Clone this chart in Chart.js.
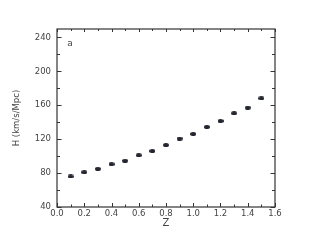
<!DOCTYPE html>
<html>
<head>
<meta charset="utf-8">
<script src="https://cdn.jsdelivr.net/npm/chart.js@4.4.1/dist/chart.umd.min.js"></script>
<style>
  html, body { margin: 0; padding: 0; background: #fff; }
  #wrap { width: 319px; height: 249px; }
</style>
</head>
<body>
<div id="wrap"><canvas id="c" width="319" height="249"></canvas></div>
<script>
// Data
const zValues = [0.1, 0.2, 0.3, 0.4, 0.5, 0.6, 0.7, 0.8, 0.9, 1.0, 1.1, 1.2, 1.3, 1.4, 1.5];
const hValues = [76, 81, 85, 90.5, 94.5, 101, 106, 113, 120.8, 126.2, 134.5, 141.5, 150.6, 157.3, 168.2];
const hErrors = [0.6, 0.6, 0.7, 0.7, 0.8, 0.8, 0.9, 0.9, 1.0, 1.0, 1.1, 1.3, 1.6, 1.6, 1.9];
const xTickLabels = ['0.0', '0.2', '0.4', '0.6', '0.8', '1.0', '1.2', '1.4', '1.6'];
const yTickLabels = ['40', '80', '120', '160', '200', '240'];
const panelLabel = 'a';

const textColor = '#444';
const axisColor = '#333';
const pointColor = '#23252f';

// ellipse marker
const marker = document.createElement('canvas');
marker.width = 6; marker.height = 4;
(function () {
  const m = marker.getContext('2d');
  m.fillStyle = pointColor;
  m.beginPath();
  m.ellipse(3, 2, 3, 2, 0, 0, Math.PI * 2);
  m.fill();
})();

const frameTicks = {
  id: 'frameTicks',
  afterDatasetsDraw(chart) {
    const ctx = chart.ctx;
    const a = chart.chartArea;
    const xs = chart.scales.x, ys = chart.scales.y;
    ctx.save();
    // error bars
    ctx.strokeStyle = pointColor;
    ctx.lineWidth = 1;
    zValues.forEach((z, i) => {
      const px = Math.round(xs.getPixelForValue(z)) + 0.5;
      const y1 = ys.getPixelForValue(hValues[i] - hErrors[i]);
      const y2 = ys.getPixelForValue(hValues[i] + hErrors[i]);
      ctx.beginPath(); ctx.moveTo(px, y1); ctx.lineTo(px, y2); ctx.stroke();
    });
    // frame
    ctx.strokeStyle = axisColor;
    ctx.lineWidth = 1.2;
    ctx.strokeRect(a.left, a.top, a.right - a.left, a.bottom - a.top);
    ctx.lineWidth = 1;
    // x ticks (every 0.1), inward
    for (let i = 0; i <= 16; i++) {
      const v = i / 10;
      const px = Math.round(xs.getPixelForValue(v)) + 0.5;
      const major = i % 2 === 0;
      const lb = major ? 4 : 2.5;
      ctx.beginPath(); ctx.moveTo(px, a.bottom); ctx.lineTo(px, a.bottom - lb); ctx.stroke();
      ctx.beginPath(); ctx.moveTo(px, a.top); ctx.lineTo(px, a.top + (major ? 3 : 2)); ctx.stroke();
    }
    // y ticks (every 20), inward
    for (let v = 40; v <= 240; v += 20) {
      const py = Math.round(ys.getPixelForValue(v)) + 0.5;
      const major = (v % 40) === 0;
      const l = major ? 4.5 : 3;
      ctx.beginPath(); ctx.moveTo(a.left, py); ctx.lineTo(a.left + l, py); ctx.stroke();
      ctx.beginPath(); ctx.moveTo(a.right, py); ctx.lineTo(a.right - l, py); ctx.stroke();
    }
    // panel label
    ctx.fillStyle = textColor;
    ctx.font = '9px "DejaVu Sans"';
    ctx.textAlign = 'center';
    ctx.textBaseline = 'middle';
    ctx.fillText(panelLabel, xs.getPixelForValue(0.095), ys.getPixelForValue(233));
    ctx.restore();
  }
};

new Chart(document.getElementById('c'), {
  type: 'scatter',
  data: {
    datasets: [{
      data: zValues.map((z, i) => ({ x: z, y: hValues[i] })),
      pointStyle: marker,
      pointRadius: 3,
      backgroundColor: pointColor,
      borderColor: pointColor
    }]
  },
  options: {
    responsive: false,
    animation: false,
    devicePixelRatio: 1,
    layout: { padding: { left: 0, right: 44, top: 29, bottom: 0 } },
    plugins: { legend: { display: false }, tooltip: { enabled: false } },
    scales: {
      x: {
        type: 'linear', min: 0, max: 1.6,
        grid: { display: false, drawTicks: false },
        border: { display: false },
        afterBuildTicks(s) { s.ticks = xTickLabels.map(t => ({ value: parseFloat(t) })); },
        afterFit(s) { s.height = 42; },
        ticks: {
          autoSkip: false, maxRotation: 0, padding: 2,
          color: textColor, font: { family: 'DejaVu Sans', size: 8.5 },
          callback(v) { return Number(v).toFixed(1); }
        },
        title: {
          display: true, text: 'Z', color: textColor,
          font: { family: 'DejaVu Sans', size: 10 },
          padding: { top: 0, bottom: 20 }
        }
      },
      y: {
        type: 'linear', min: 40, max: 250,
        grid: { display: false, drawTicks: false },
        border: { display: false },
        afterBuildTicks(s) { s.ticks = yTickLabels.map(t => ({ value: parseFloat(t) })); },
        afterFit(s) { s.width = 57; },
        ticks: {
          autoSkip: false, padding: 6,
          color: textColor, font: { family: 'DejaVu Sans', size: 8.5 },
          callback(v) { return String(Math.round(v)); }
        },
        title: {
          display: true, text: 'H (km/s/Mpc)', color: textColor,
          font: { family: 'DejaVu Sans', size: 8.5 },
          padding: { top: 12, bottom: 0 }
        }
      }
    }
  },
  plugins: [frameTicks]
});
</script>
</body>
</html>
